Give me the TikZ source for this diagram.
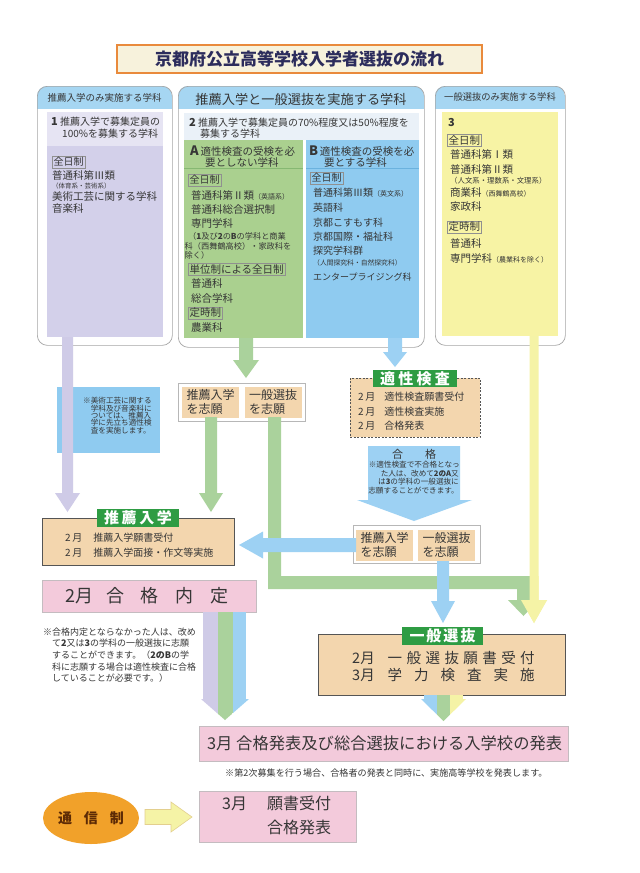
\documentclass[tikz,border=0pt]{standalone}
\usepackage{fontspec}
\setmainfont{Noto Sans CJK JP}
\usetikzlibrary{shapes.geometric}
\definecolor{txt}{HTML}{363636}
\definecolor{navy}{HTML}{2C2C5C}
\definecolor{frm}{HTML}{A5A5A5}
\definecolor{hdr}{HTML}{A6D6F2}
\definecolor{lav}{HTML}{D3D0EA}
\definecolor{lavL}{HTML}{E6E4F3}
\definecolor{twoF}{HTML}{EAF1F8}
\definecolor{grnBox}{HTML}{AAD08F}
\definecolor{grnLn}{HTML}{86B872}
\definecolor{bluBox}{HTML}{8FCBF0}
\definecolor{bluLn}{HTML}{6BB2DE}
\definecolor{yel}{HTML}{F7F3A4}
\definecolor{lavA}{HTML}{CFCBE7}
\definecolor{grnA}{HTML}{AAD29C}
\definecolor{bluA}{HTML}{9DD1F3}
\definecolor{yelA}{HTML}{F5F3A6}
\definecolor{yelB}{HTML}{E3CF8E}
\definecolor{tan}{HTML}{F3D6AE}
\definecolor{pink}{HTML}{F3CADB}
\definecolor{pinkB}{HTML}{C4BCC0}
\definecolor{lblG}{HTML}{2E9C43}
\definecolor{orng}{HTML}{F1A12A}
\definecolor{brn}{HTML}{5C2A05}
\definecolor{tFill}{HTML}{F7F2DC}
\definecolor{tBord}{HTML}{E98A3C}
\definecolor{dk}{HTML}{555555}
\newcommand\fz[2]{\fontsize{#1}{#2}\selectfont}
\newcommand\boxnode[6]{\node[#1,anchor=north west,inner sep=0pt,outer sep=0pt,minimum width={#5-#3},minimum height={#6-#4}] (#2) at (#3,#4) {};}
\newcommand\varr[7]{\fill[#1] ({#2-#5},#3) -- ({#2-#5},{#4-#7}) -- ({#2-#6},{#4-#7}) -- (#2,#4) -- ({#2+#6},{#4-#7}) -- ({#2+#5},{#4-#7}) -- ({#2+#5},#3) -- cycle;}
\newcommand\harrL[7]{\fill[#1] (#2,{#4-#5}) -- ({#3+#7},{#4-#5}) -- ({#3+#7},{#4-#6}) -- (#3,#4) -- ({#3+#7},{#4+#6}) -- ({#3+#7},{#4+#5}) -- (#2,{#4+#5}) -- cycle;}
\newcommand\harrR[7]{\filldraw[#1] (#2,{#4-#5}) -- ({#3-#7},{#4-#5}) -- ({#3-#7},{#4-#6}) -- (#3,#4) -- ({#3-#7},{#4+#6}) -- ({#3-#7},{#4+#5}) -- (#2,{#4+#5}) -- cycle;}
\newcommand\colframe[5]{%
  \begin{scope}
    \clip[rounded corners=10pt] (#2,#3) rectangle (#4,#5);
    \fill[white] (#2,#3) rectangle (#4,#5);
    \fill[hdr] (#2,#3) rectangle (#4,109);
  \end{scope}
  \node[draw=frm,line width=0.7pt,rounded corners=10pt,anchor=north west,inner sep=0pt,minimum width={#4-#2},minimum height={#5-#3}] (#1) at (#2,#3) {};}
\begin{document}
\begin{tikzpicture}[x=1pt,y=-1pt,
  t/.style={anchor=west,inner sep=0pt,text=txt,font=\fz{10}{12}},
  tg/.style={anchor=west,draw=txt!55,line width=0.5pt,inner sep=1.3pt,text=txt,font=\fz{10}{12}},
  pbox/.style={fill=tan,minimum width=57,minimum height=31,inner sep=0pt,font=\fz{12}{14},align=left,text=txt},
  lbl/.style={fill=lblG,text=white,inner sep=0pt,font=\fz{15}{15}\bfseries}]
\fill[white] (0,0) rectangle (640,873);
\useasboundingbox (0,0) rectangle (640,873);
% title
\node[draw=tBord,line width=2pt,fill=tFill,minimum width=365,minimum height=28,inner sep=0pt,text=navy,font=\fz{17}{17}\bfseries] (title) at (299.5,59) {京都府公立高等学校入学者選抜の流れ};
% column frames
\colframe{colL}{37}{86}{172}{345}
\colframe{colM}{178}{86}{424}{347}
\colframe{colR}{435}{86}{565}{345}
\node[t,anchor=center,font=\fz{9.5}{10}] (hL) at (104.5,98) {推薦入学のみ実施する学科};
\node[t,anchor=center,font=\fz{13.2}{14}] (hM) at (301,99) {推薦入学と一般選抜を実施する学科};
\node[t,anchor=center,font=\fz{9.3}{10}] (hR) at (500,97) {一般選抜のみ実施する学科};
% inner boxes
\boxnode{fill=lav}{lavbox}{47}{112}{163}{337}
\boxnode{fill=lavL}{lavtop}{47}{112}{163}{146}
\boxnode{fill=twoF}{twobox}{184}{113}{419}{140}
\boxnode{fill=grnBox}{Abox}{184}{140}{303}{338}
\boxnode{fill=bluBox}{Bbox}{306}{140}{419}{338}
\boxnode{fill=yel}{yelbox}{442}{112}{558}{336}
\draw[grnLn,line width=0.6pt] (Abox.west |- 0,168) -- (Abox.east |- 0,168);
\draw[bluLn,line width=0.6pt] (Bbox.west |- 0,168) -- (Bbox.east |- 0,168);
% left column text
\node[t] (l1) at (51,122) {{\fz{11}{12}\bfseries 1} 推薦入学で募集定員の};
\node[t] (l2) at (62,134) {100\%を募集する学科};
\node[tg] (l3) at (52,162) {全日制};
\node[t,font=\fz{10.5}{12}] (l4) at (52,175) {普通科第Ⅲ類};
\node[t,font=\fz{6.5}{7}] (l5) at (52,186.5) {（体育系・芸術系）};
\node[t,font=\fz{10.5}{12}] (l6) at (52,197) {美術工芸に関する学科};
\node[t,font=\fz{10.5}{12}] (l7) at (52,208.5) {音楽科};
% middle text
\node[t] (m1) at (189,123) {{\fz{11}{12}\bfseries 2} 推薦入学で募集定員の70\%程度又は50\%程度を};
\node[t] (m2) at (200,134) {募集する学科};
\node[t,font=\fz{10.5}{12}] (a1) at (190,151) {{\fz{13}{13}\bfseries A}\,適性検査の受検を必};
\node[t,font=\fz{10.5}{12}] (a2) at (205,162.5) {要としない学科};
\node[tg] (a3) at (188,180) {全日制};
\node[t,font=\fz{10.5}{12}] (a4) at (191,195) {普通科第Ⅱ類{\fz{7}{8}（英語系）}};
\node[t,font=\fz{10.5}{12}] (a5) at (191,210) {普通科総合選択制};
\node[t,font=\fz{10.5}{12}] (a6) at (191,223.5) {専門学科};
\node[t,font=\fz{8.2}{10}] (a7) at (188,236) {（{\bfseries 1}及び{\bfseries 2}の{\bfseries B}の学科と商業};
\node[t,font=\fz{8.2}{10}] (a8) at (184.5,246) {科（西舞鶴高校）・家政科を};
\node[t,font=\fz{8.2}{10}] (a9) at (184.5,255.5) {除く）};
\node[tg,font=\fz{10.5}{12}] (a10) at (188,269) {単位制による全日制};
\node[t,font=\fz{10.5}{12}] (a11) at (191,283.5) {普通科};
\node[t,font=\fz{10.5}{12}] (a12) at (191,298) {総合学科};
\node[tg,font=\fz{10.5}{12}] (a13) at (188,313) {定時制};
\node[t,font=\fz{10.5}{12}] (a14) at (191,328) {農業科};
\node[t,font=\fz{10.5}{12}] (b1) at (309,151) {{\fz{13}{13}\bfseries B}\,適性検査の受検を必};
\node[t,font=\fz{10.5}{12}] (b2) at (324,162.5) {要とする学科};
\node[tg] (b3) at (310,178) {全日制};
\node[t] (b4) at (313,193) {普通科第Ⅲ類{\fz{7}{8}（英文系）}};
\node[t] (b5) at (313,208) {英語科};
\node[t] (b6) at (313,223) {京都こすもす科};
\node[t] (b7) at (313,237) {京都国際・福祉科};
\node[t] (b8) at (313,250.5) {探究学科群};
\node[t,font=\fz{6.8}{8}] (b9) at (313,263) {（人間探究科・自然探究科）};
\node[t,font=\fz{9}{10}] (b10) at (313,277) {エンタープライジング科};
% right text
\node[t,font=\fz{11}{12}\bfseries] (r0) at (448,123) {3};
\node[tg,font=\fz{10.5}{12}] (r1) at (447,140) {全日制};
\node[t,font=\fz{10.5}{12}] (r2) at (450,154) {普通科第Ⅰ類};
\node[t,font=\fz{10.5}{12}] (r3) at (450,169) {普通科第Ⅱ類};
\node[t,font=\fz{7.4}{8}] (r4) at (450,180.5) {（人文系・理数系・文理系）};
\node[t,font=\fz{10.5}{12}] (r5) at (450,193) {商業科{\fz{7}{8}（西舞鶴高校）}};
\node[t,font=\fz{10.5}{12}] (r6) at (450,207) {家政科};
\node[tg,font=\fz{10.5}{12}] (r7) at (447,227) {定時制};
\node[t,font=\fz{10.5}{12}] (r8) at (450,243) {普通科};
\node[t,font=\fz{10.5}{12}] (r9) at (450,258) {専門学科{\fz{7}{8}（農業科を除く）}};
% blue note box
\boxnode{fill=bluBox}{note1}{57}{387}{160}{453}
\node[t,anchor=north west,align=left,font=\fz{7.6}{7.4}] (note1t) at (83,397) {※美術工芸に関する\\\hspace*{7.6pt}学科及び音楽科に\\\hspace*{7.6pt}ついては、推薦入\\\hspace*{7.6pt}学に先立ち適性検\\\hspace*{7.6pt}査を実施します。};
% arrows from columns
\varr{lavA}{67.5}{337}{512}{5.5}{12.5}{19}
\varr{grnA}{246}{338}{378}{7}{13}{18}
\varr{bluA}{395}{338}{367}{7}{12}{15}
\varr{yelA}{534}{336}{623}{4.5}{13}{23}
% upper pair
\boxnode{fill=white,draw=frm!80,line width=0.5pt}{pairU}{178}{383}{305}{421}
\node[pbox] (pu1) at (210.5,402) {推薦入学\\を志願};
\node[pbox] (pu2) at (273,402) {一般選抜\\を志願};
\varr{grnA}{211}{417}{512}{6}{12}{19}
\fill[grnA] (268,417) -- (268,589) -- (517,589) -- (517,600) -- (508,600) -- (523.5,616) -- (539,600) -- (530,600) -- (530,576) -- (281,576) -- (281,417) -- cycle;
\varr{yelA}{534}{576}{623}{4.5}{13}{23}
% tekisei
\boxnode{fill=tan,draw=dk,line width=0.9pt,dash pattern=on 2pt off 1.5pt}{tekisei}{350}{378}{480}{437}
\node[lbl,minimum width=84,minimum height=17] (tklbl) at (415,378.5) {\makebox[70pt][s]{適\hfil 性\hfil 検\hfil 査}};
\node[t] (tk1) at (358,397) {2\,月\hspace{9pt}適性検査願書受付};
\node[t] (tk2) at (358,412) {2\,月\hspace{9pt}適性検査実施};
\node[t] (tk3) at (358,426) {2\,月\hspace{9pt}合格発表};
% gokaku arrow
\fill[bluA] (368,446) -- (368,500) -- (357,500) -- (414,521) -- (472,500) -- (460,500) -- (460,446) -- cycle;
\node[t,anchor=center,font=\fz{11}{12}] (gk) at (414,454) {合\hspace{22pt}格};
\node[t,anchor=east,font=\fz{7.6}{8}] (gk1) at (460,465) {※適性検査で不合格となっ};
\node[t,anchor=east,font=\fz{7.6}{8}] (gk2) at (459,473.5) {た人は、改めて{\bfseries 2のA}又};
\node[t,anchor=east,font=\fz{7.6}{8}] (gk3) at (459,482) {は{\bfseries 3}の学科の一般選抜に};
\node[t,anchor=east,font=\fz{7.6}{8}] (gk4) at (459,490.5) {志願することができます。};
% lower pair
\boxnode{fill=white,draw=frm!80,line width=0.5pt}{pairL}{353}{525}{480}{563}
\node[pbox] (pl1) at (384.5,545) {推薦入学\\を志願};
\node[pbox] (pl2) at (446.5,545) {一般選抜\\を志願};
\harrL{bluA}{356}{239}{545}{7}{13.5}{24}
\varr{bluA}{443}{561}{623}{6}{12}{22}
% suisen box
\boxnode{fill=tan,draw=dk,line width=0.8pt}{suisen}{42}{518}{234}{565}
\node[lbl,minimum width=82,minimum height=18] (sslbl) at (138,518) {\makebox[68pt][s]{推\hfil 薦\hfil 入\hfil 学}};
\node[t] (ss1) at (65,538) {2\,月\hspace{11pt}推薦入学願書受付};
\node[t] (ss2) at (65,553) {2\,月\hspace{11pt}推薦入学面接・作文等実施};
% naitei
\boxnode{fill=pink,draw=pinkB,line width=1pt}{naitei}{42}{580}{256}{612}
\node[t,font=\fz{18}{18}] (nt) at (65,596) {2月\hspace{13pt}\makebox[122pt][s]{合\hfil 格\hfil 内\hfil 定}};
\node[t,anchor=north west,align=left,font=\fz{9}{11.6}] (ntnote) at (43,627.5) {※合格内定とならなかった人は、改め\\\hspace*{9pt}て{\bfseries 2}又は{\bfseries 3}の学科の一般選抜に志願\\\hspace*{9pt}することができます。（{\bfseries 2のB}の学\\\hspace*{9pt}科に志願する場合は適性検査に合格\\\hspace*{9pt}していることが必要です。）};
% ippan
\boxnode{fill=tan,draw=dk,line width=0.8pt}{ippan}{318}{634}{565}{695}
\node[lbl,minimum width=81,minimum height=18] (iplbl) at (442.5,636) {\makebox[66pt][s]{一\hfil 般\hfil 選\hfil 抜}};
\node[t,font=\fz{14.5}{15}] (ip1) at (352,658) {2月\hspace{13pt}\makebox[147pt][s]{一\hfil 般\hfil 選\hfil 抜\hfil 願\hfil 書\hfil 受\hfil 付}};
\node[t,font=\fz{14.5}{15}] (ip2) at (352,675) {3月\hspace{13pt}\makebox[147pt][s]{学\hfil 力\hfil 検\hfil 査\hfil 実\hfil 施}};
% three colour arrows
\fill[lavA] (203,612) rectangle (218,699);
\fill[grnA] (218,612) rectangle (233,699);
\fill[bluA] (233,612) rectangle (246,699);
\begin{scope}
  \clip (201,699) -- (225,720) -- (249,699) -- cycle;
  \fill[lavA] (200,698) rectangle (218,721);
  \fill[grnA] (218,698) rectangle (233,721);
  \fill[bluA] (233,698) rectangle (250,721);
\end{scope}
\fill[bluA] (424,695) rectangle (437,699.5);
\fill[grnA] (437,695) rectangle (450,699.5);
\fill[yelA] (450,695) rectangle (463,699.5);
\begin{scope}
  \clip (421,699) -- (443.5,721) -- (466,699) -- cycle;
  \fill[bluA] (420,698) rectangle (437,722);
  \fill[grnA] (437,698) rectangle (450,722);
  \fill[yelA] (450,698) rectangle (467,722);
\end{scope}
% happyo
\boxnode{fill=pink,draw=pinkB,line width=1pt}{happyo}{199}{726}{568}{761}
\node[t,font=\fz{16.3}{17}] (hp) at (207,743.5) {3月 合格発表及び総合選抜における入学校の発表};
\node[t,font=\fz{9.1}{10}] (hpn) at (225,773) {※第2次募集を行う場合、合格者の発表と同時に、実施高等学校を発表します。};
% tsushin
\node[ellipse,fill=orng,minimum width=96,minimum height=52,inner sep=0pt,text=brn,font=\fz{14}{14}\bfseries] (tsushin) at (91,818) {\makebox[66pt][s]{通\hfil 信\hfil 制}};
\harrR{fill=yelA,draw=yelB,line width=0.6pt}{145}{192}{817}{7.5}{15}{21}
\boxnode{fill=pink,draw=pinkB,line width=1pt}{tsbox}{199}{791}{356}{842}
\node[t,font=\fz{16}{17}] (ts1) at (222,803) {3月\hspace{20pt}願書受付};
\node[t,font=\fz{16}{17}] (ts2) at (267,827) {合格発表};
\end{tikzpicture}
\end{document}
